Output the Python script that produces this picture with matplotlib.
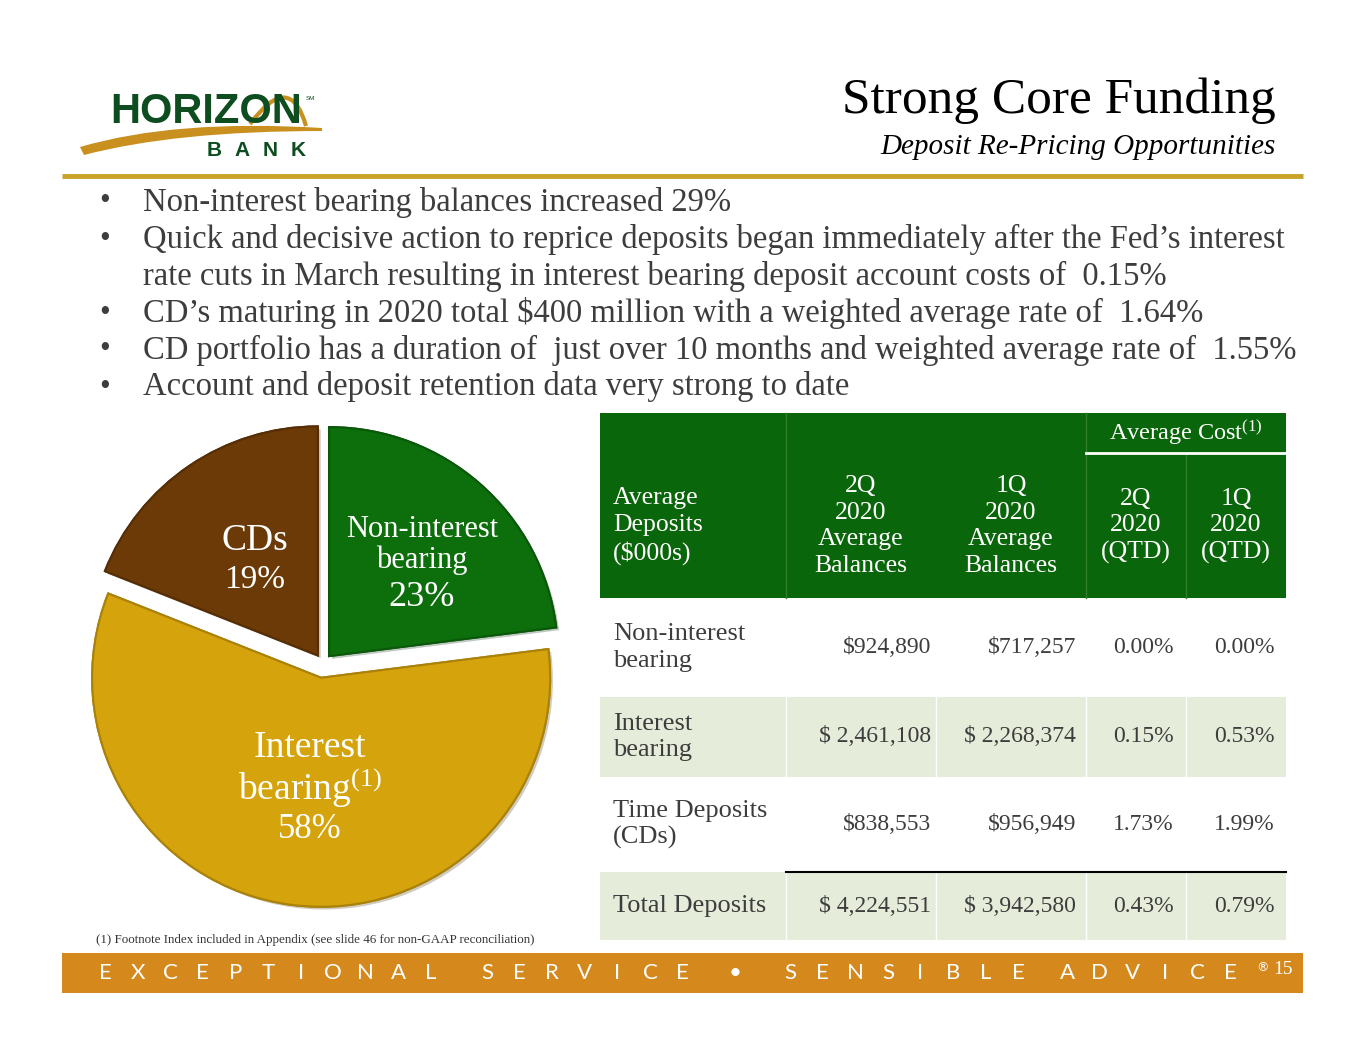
import numpy as np
import matplotlib
matplotlib.use("Agg")
from matplotlib import pyplot as plt
from matplotlib.patches import Rectangle, PathPatch
from matplotlib.path import Path
import matplotlib.patheffects as pe

plt.rcParams['font.family'] = ['Liberation Serif', 'DejaVu Serif']
plt.rcParams['mathtext.fontset'] = 'custom'
plt.rcParams['mathtext.rm'] = 'Liberation Serif'
plt.rcParams['mathtext.it'] = 'Liberation Serif:italic'

# data
title = "Strong Core Funding"
subtitle = "Deposit Re-Pricing Opportunities"
bullets = [
    "Non-interest bearing balances increased 29%",
    "Quick and decisive action to reprice deposits began immediately after the Fed\u2019s interest\nrate cuts in March resulting in interest bearing deposit account costs of  0.15%",
    "CD\u2019s maturing in 2020 total $400 million with a weighted average rate of  1.64%",
    "CD portfolio has a duration of  just over 10 months and weighted average rate of  1.55%",
    "Account and deposit retention data very strong to date",
]

pie_labels = ["Non-interest\nbearing", "Interest\nbearing$^{(1)}$", "CDs"]
pie_shares = [23, 58, 19]
pie_colors = ["#0c6f0c", "#d5a30b", "#6c3a07"]
pie_explode = [0.04, 0.065, 0.04]

col_headers = ["Average\nDeposits\n($000s)", "2Q\n2020\nAverage\nBalances", "1Q\n2020\nAverage\nBalances",
               "2Q\n2020\n(QTD)", "1Q\n2020\n(QTD)"]
row_labels = ["Non-interest\nbearing", "Interest\nbearing", "Time Deposits\n(CDs)", "Total Deposits"]
bal_2q = ["$924,890", "$ 2,461,108", "$838,553", "$ 4,224,551"]
bal_1q = ["$717,257", "$ 2,268,374", "$956,949", "$ 3,942,580"]
cost_2q = ["0.00%", "0.15%", "1.73%", "0.43%"]
cost_1q = ["0.00%", "0.53%", "1.99%", "0.79%"]
footnote = "(1) Footnote Index included in Appendix (see slide 46 for non-GAAP reconciliation)"
footer_words = ["EXCEPTIONAL", "SERVICE", "\u2022", "SENSIBLE", "ADVICE"]
page_no = "15"

W, H = 1365, 1055
fig = plt.figure(figsize=(W / 100, H / 100), dpi=100)
ax = fig.add_axes([0, 0, 1, 1])
ax.set_xlim(0, W)
ax.set_ylim(H, 0)
ax.axis('off')

TXT = "#3d3d3d"
GREEN = "#0a660a"
LIGHT = "#e5ecd9"

# --- logo
upper = [(80, 147), (175, 119), (322, 128)]
lower = [(322, 131), (175, 131), (84, 155)]
verts = upper + lower + [upper[0]]
codes = [Path.MOVETO, Path.CURVE3, Path.CURVE3, Path.LINETO, Path.CURVE3, Path.CURVE3, Path.CLOSEPOLY]
ax.add_patch(PathPatch(Path(verts, codes), fc="#c98f1f", ec="none"))
arc = Path([(250, 124), (290, 70), (306, 126)], [Path.MOVETO, Path.CURVE3, Path.CURVE3])
ax.add_patch(PathPatch(arc, fc="none", ec="#c98f1f", lw=3))
ax.text(110, 112, "HORIZON", family="Liberation Sans", weight="bold", fontsize=30,
        color="#0d4d1f", va="center", ha="left")
ax.text(306, 99, "SM", family="Liberation Sans", fontsize=4.5, color="#0d4d1f", va="center")
for i, ch in enumerate("BANK"):
    ax.text(214 + i * 28, 151, ch, family="Liberation Sans", weight="bold", fontsize=15,
            color="#0d4d1f", va="center", ha="center")

# --- title
ax.text(1276, 101, title, fontsize=37, color="black", ha="right", va="center")
ax.text(1276, 147, subtitle, fontsize=21, style="italic", color="black", ha="right", va="center")
ax.plot([62, 1303], [176, 176], color="#c9a227", lw=3.5, solid_capstyle="butt")

# --- bullets
y = 202
for b in bullets:
    ax.text(105, y, "\u2022", fontsize=22, color=TXT, va="center", ha="center")
    for ln in b.split("\n"):
        ax.text(143, y, ln, fontsize=23.5, color=TXT, va="center", ha="left")
        y += 37

# --- pie
R = 229
cx, cy = 323, 663
span = 2.5 * R
pax = fig.add_axes([(cx - span / 2) / W, (H - cy - span / 2) / H, span / W, span / H])
pax.set_xlim(-1.25, 1.25)
pax.set_ylim(-1.25, 1.25)
pax.set_aspect('equal')
pax.axis('off')
wedges, _ = pax.pie(pie_shares, colors=pie_colors, explode=pie_explode, startangle=90,
                    counterclock=False, radius=1.0,
                    wedgeprops=dict(linewidth=1.5))
for w, c in zip(wedges, pie_colors):
    rgb = np.array(matplotlib.colors.to_rgb(c)) * 0.8
    w.set_edgecolor(rgb)
    w.set_path_effects([pe.withSimplePatchShadow(offset=(2, -2), alpha=0.25), pe.Normal()])

# pie labels (figure pixel coords)
ax.text(422, 545, pie_labels[0], fontsize=22, color="white", ha="center", va="center",
        linespacing=1.1, zorder=10)
ax.text(422, 598, f"{pie_shares[0]}%", fontsize=26, color="white", ha="center", va="center", zorder=10)
ax.text(255, 541, pie_labels[2], fontsize=27, color="white", ha="center", va="center", zorder=10)
ax.text(255, 580, f"{pie_shares[2]}%", fontsize=24, color="white", ha="center", va="center", zorder=10)
ax.text(310, 770, pie_labels[1], fontsize=27, color="white", ha="center", va="center",
        linespacing=1.05, zorder=10)
ax.text(310, 829, f"{pie_shares[1]}%", fontsize=25, color="white", ha="center", va="center", zorder=10)
ax.set_zorder(2)
ax.patch.set_visible(False)

# --- table
col_edges = [600, 786, 936, 1086, 1186, 1286]
hdr_top, sub_line, hdr_bot = 413, 453, 598
row_edges = [598, 697, 777, 872, 940]
row_fill = ["white", LIGHT, "white", LIGHT]

ax.add_patch(Rectangle((col_edges[0], hdr_top), col_edges[-1] - col_edges[0], hdr_bot - hdr_top,
                       fc=GREEN, ec="none"))
for x in (col_edges[1], col_edges[3], col_edges[4]):
    top = sub_line if x == col_edges[4] else hdr_top
    ax.plot([x, x], [top, hdr_bot], color="#2f7f2f", lw=1)
ax.plot([col_edges[3], col_edges[5]], [sub_line, sub_line], color="white", lw=2)
ax.text((col_edges[3] + col_edges[5]) / 2, 433, "Average Cost$^{(1)}$", fontsize=17.5,
        color="white", ha="center", va="center")

hdr_cy = 526
ax.text(613, hdr_cy, col_headers[0], fontsize=18.5, color="white", ha="left", va="center",
        linespacing=1.28)
for j in range(1, 5):
    xc = (col_edges[j] + col_edges[j + 1]) / 2
    ax.text(xc, hdr_cy, col_headers[j], fontsize=18.5, color="white", ha="center", va="center",
            linespacing=1.28)

right_x = [931, 1076, 1174, 1275]
cols = [bal_2q, bal_1q, cost_2q, cost_1q]
for i in range(len(row_labels)):
    y0, y1 = row_edges[i], row_edges[i + 1]
    if row_fill[i] != "white":
        ax.add_patch(Rectangle((col_edges[0], y0), col_edges[-1] - col_edges[0], y1 - y0,
                               fc=row_fill[i], ec="none"))
        for x in col_edges[1:-1]:
            ax.plot([x, x], [y0, y1], color="white", lw=1)
    yc = (y0 + y1) / 2
    ax.text(613, yc, row_labels[i], fontsize=19, color=TXT, ha="left", va="center",
            linespacing=1.25)
    for j, c in enumerate(cols):
        ax.text(right_x[j], yc, c[i], fontsize=17, color=TXT, ha="right", va="center")
ax.plot([col_edges[1], col_edges[-1]], [row_edges[3], row_edges[3]], color="black", lw=1.5)

# --- footnote and footer
ax.text(96, 940, footnote, fontsize=9.4, color="#333333", ha="left", va="center")
ax.add_patch(Rectangle((62, 953), 1303 - 62, 40, fc="#d5891d", ec="none"))
word_x = [105, 487, 735, 790, 1067]
pitch = 32.6
for wd, x0 in zip(footer_words, word_x):
    for k, ch in enumerate(wd):
        ax.text(x0 + k * pitch, 973, ch, family="Lato", fontsize=16, color="white",
                ha="center", va="center")
ax.text(1262, 968, "\u00ae", family="DejaVu Sans", fontsize=9, color="white", ha="center", va="center")
ax.text(1283, 970, page_no, fontsize=14, color="white", ha="center", va="center")

fig.savefig("out.png", dpi=100, facecolor="white")
